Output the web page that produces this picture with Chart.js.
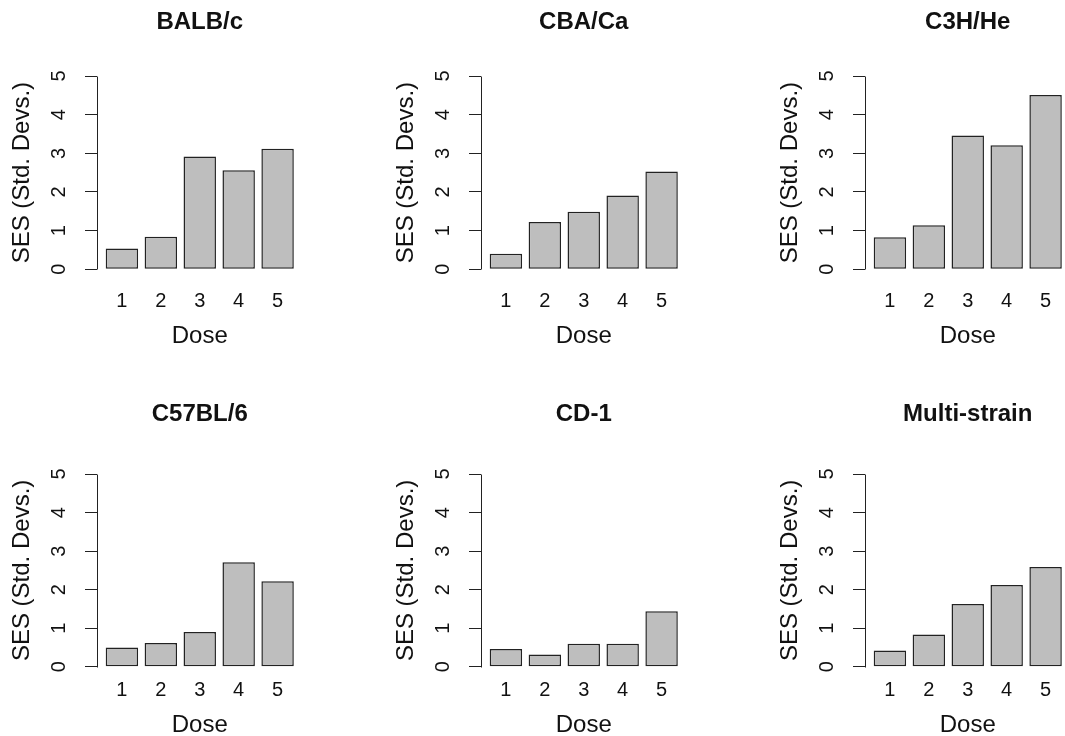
<!DOCTYPE html>
<html>
<head>
<meta charset="utf-8">
<script src="https://cdn.jsdelivr.net/npm/chart.js@4.4.1/dist/chart.umd.min.js"></script>
<style>
  html, body { margin: 0; padding: 0; background: #fff; }
  body { width: 1065px; height: 736px; overflow: hidden; position: relative; }
  canvas { position: absolute; }
</style>
</head>
<body>
<canvas id="p0" width="384" height="400"></canvas>
<canvas id="p1" width="384" height="400"></canvas>
<canvas id="p2" width="384" height="400"></canvas>
<canvas id="p3" width="384" height="400"></canvas>
<canvas id="p4" width="384" height="400"></canvas>
<canvas id="p5" width="384" height="400"></canvas>
<script>
// values (SES in std. devs. per dose level)
const doses = [1, 2, 3, 4, 5];
const sesTicks = [0, 1, 2, 3, 4, 5];
const strainNames = ['BALB/c', 'CBA/Ca', 'C3H/He', 'C57BL/6', 'CD-1', 'Multi-strain'];

const balbc = [0.54, 0.84, 2.92, 2.56, 3.12];
const cbaca = [0.40, 1.22, 1.49, 1.91, 2.53];
const c3hhe = [0.83, 1.14, 3.46, 3.21, 4.51];
const c57bl6 = [0.50, 0.62, 0.90, 2.71, 2.22];
const cd1 = [0.46, 0.32, 0.60, 0.60, 1.44];
const multiStrain = [0.42, 0.84, 1.63, 2.12, 2.59];

const panelValues = [balbc, cbaca, c3hhe, c57bl6, cd1, multiStrain];

Chart.defaults.font.family = '"Liberation Sans", Arial, Helvetica, sans-serif';
Chart.defaults.color = '#111';

// spacing differs a little between the two rows of the original
const rowLayout = [
  { top: 0, titlePad: { top: 8, bottom: 31.5 }, xHeight: 123, xTickPad: 12, xTitlePad: 49 },
  { top: 368, titlePad: { top: 32, bottom: 37.5 }, xHeight: 93.5, xTickPad: 3.5, xTitlePad: 28.6 },
];

// R style y axis line: only spans the tick range
const axisLine = {
  id: 'axisLine',
  afterDatasetsDraw(chart) {
    const ys = chart.scales.y;
    const ctx = chart.ctx;
    const x = Math.floor(chart.chartArea.left) + 0.5;
    ctx.save();
    ctx.strokeStyle = '#222';
    ctx.lineWidth = 1;
    ctx.beginPath();
    ctx.moveTo(x, Math.round(ys.getPixelForValue(sesTicks[0])) + 0.5);
    ctx.lineTo(x, Math.round(ys.getPixelForValue(sesTicks[sesTicks.length - 1])) + 0.5);
    ctx.stroke();
    ctx.restore();
  }
};

function drawPanel(idx) {
  const row = Math.floor(idx / 3);
  const col = idx % 3;
  const lay = rowLayout[row];
  const canvas = document.getElementById('p' + idx);
  canvas.style.left = (col * 384) + 'px';
  canvas.style.top = lay.top + 'px';

  new Chart(canvas, {
    type: 'bar',
    data: {
      datasets: [{
        data: doses.map((d, i) => ({ x: d, y: panelValues[idx][i] })),
        backgroundColor: '#bebebe',
        borderColor: '#222',
        borderWidth: 1.5,
        borderSkipped: false,
        categoryPercentage: 1 / 1.2,
        barPercentage: 1,
      }]
    },
    options: {
      responsive: false,
      animation: false,
      devicePixelRatio: 1,
      layout: { padding: { left: 0, right: 81.5, top: 0, bottom: 0 } },
      plugins: {
        legend: { display: false },
        tooltip: { enabled: false },
        title: {
          display: true,
          text: strainNames[idx],
          fullSize: false,
          font: { size: 24, weight: 'bold' },
          color: '#111',
          padding: lay.titlePad,
        },
      },
      scales: {
        x: {
          type: 'linear',
          offset: false,
          min: 0.36,
          max: 5.64,
          afterBuildTicks: s => { s.ticks = doses.map(v => ({ value: v })); },
          afterFit: s => { s.height = lay.xHeight; },
          grid: { display: false, drawTicks: false, offset: false },
          border: { display: false },
          ticks: { font: { size: 20 }, color: '#111', padding: lay.xTickPad, maxRotation: 0, autoSkip: false },
          title: { display: true, text: 'Dose', font: { size: 24 }, color: '#111', padding: { top: 0, bottom: lay.xTitlePad } },
        },
        y: {
          min: -0.2,
          max: 5.2,
          afterBuildTicks: s => { s.ticks = sesTicks.map(v => ({ value: v })); },
          afterFit: s => { s.width = 97; },
          grid: { drawOnChartArea: false, drawTicks: true, tickLength: 12, color: '#222', lineWidth: 1 },
          border: { display: false },
          ticks: { font: { size: 20 }, color: '#111', padding: 19.5, minRotation: 90, maxRotation: 90, crossAlign: 'center' },
          title: { display: true, text: 'SES (Std. Devs.)', font: { size: 24 }, color: '#111', padding: { top: 8, bottom: 0 } },
        }
      }
    },
    plugins: [axisLine]
  });
}

for (let i = 0; i < 6; i++) drawPanel(i);
</script>
</body>
</html>
